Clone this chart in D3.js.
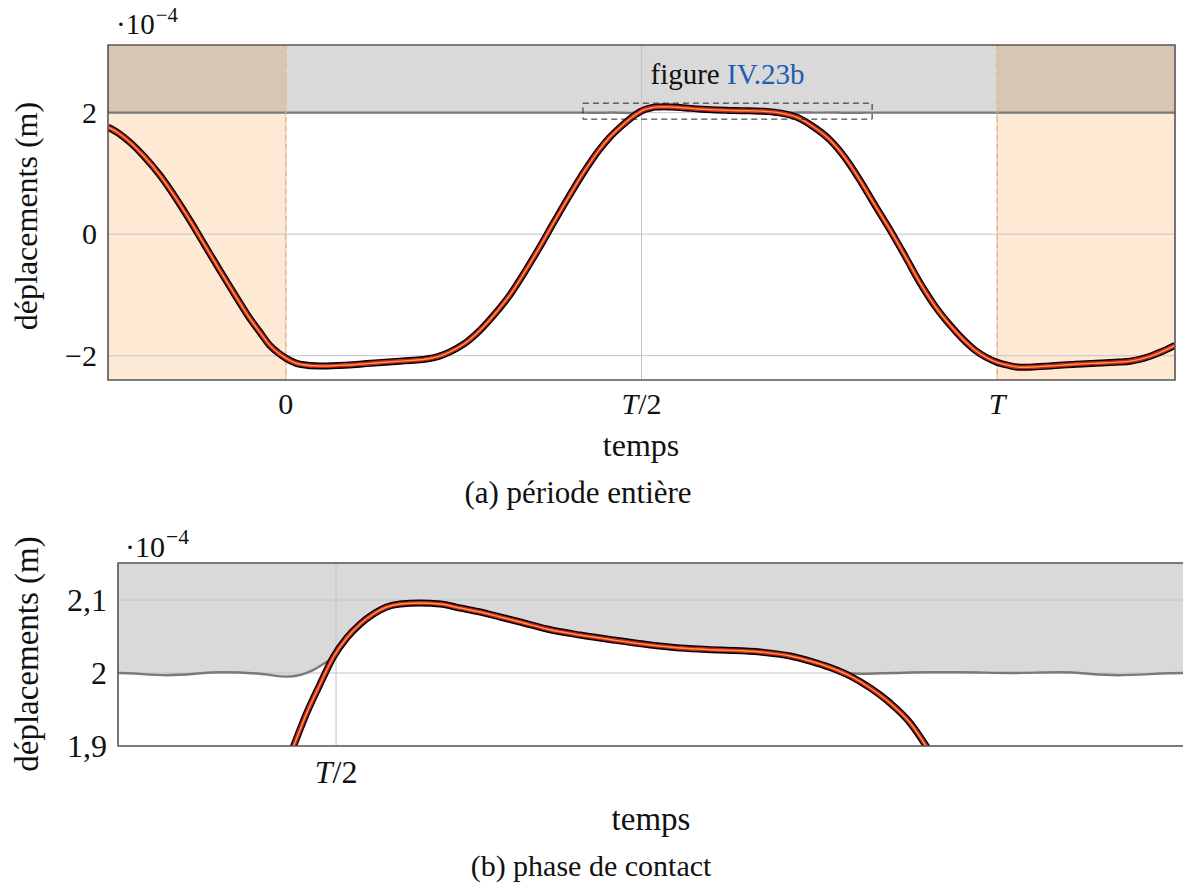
<!DOCTYPE html>
<html><head><meta charset="utf-8">
<script src="https://cdn.jsdelivr.net/npm/d3@7"></script>
<style>
body{margin:0;background:#fff;}
text{font-family:"Liberation Serif","Times New Roman",serif;fill:#111;}
</style></head>
<body>
<svg id="c" width="1183" height="884"></svg>
<script>
// ---- data (displacement in 1e-4 m, time in units of period T) ----
const timeT = [-0.25,-0.235,-0.218,-0.2,-0.177,-0.155,-0.135,-0.114,-0.093,-0.072,-0.051,-0.036,-0.0225,-0.01,0,0.0197,0.048,0.075,0.104,0.13,0.16,0.18,0.2,0.215,0.23,0.25,0.273,0.294,0.315,0.336,0.357,0.378,0.399,0.42,0.44,0.455,0.47,0.4839,0.4889,0.494,0.499,0.504,0.5091,0.5141,0.5191,0.5242,0.5317,0.5393,0.5468,0.5544,0.5619,0.5695,0.5796,0.5921,0.6046,0.6186,0.6299,0.645,0.6601,0.6714,0.6789,0.6865,0.694,0.7016,0.7091,0.7167,0.7227,0.74,0.765,0.786,0.807,0.828,0.8495,0.871,0.892,0.913,0.934,0.952,0.969,0.985,1.0,1.016,1.032,1.05,1.0745,1.11,1.145,1.17,1.187,1.2,1.215,1.23,1.25];
const displacement = [1.76,1.66,1.50,1.29,0.97,0.60,0.23,-0.18,-0.59,-0.99,-1.38,-1.62,-1.83,-1.96,-2.04,-2.14,-2.17,-2.16,-2.14,-2.115,-2.09,-2.075,-2.05,-2.01,-1.94,-1.81,-1.58,-1.31,-1.00,-0.62,-0.21,0.22,0.64,1.04,1.38,1.59,1.76,1.899,1.945,1.985,2.0219,2.0479,2.0671,2.0808,2.0904,2.0945,2.0959,2.0945,2.089,2.0836,2.0767,2.0699,2.0603,2.052,2.0452,2.0384,2.0342,2.0315,2.0288,2.0233,2.0164,2.0075,1.9959,1.9795,1.9589,1.9315,1.9,1.78,1.55,1.26,0.89,0.48,0.07,-0.37,-0.81,-1.19,-1.50,-1.73,-1.91,-2.03,-2.11,-2.16,-2.19,-2.185,-2.17,-2.14,-2.12,-2.105,-2.09,-2.06,-2.01,-1.94,-1.83];
// obstacle boundary (lower edge of the gray region)
const obstacleT = [-0.25,0,0.25,0.4177,0.4362,0.4573,0.4713,0.4815,0.4913,0.495,0.499,0.504,0.5091,0.5141,0.5191,0.5242,0.5317,0.5393,0.5468,0.5544,0.5619,0.5695,0.5796,0.5921,0.6046,0.6186,0.6299,0.645,0.6601,0.6714,0.6789,0.6865,0.6921,0.6978,0.7103,0.7231,0.7356,0.7544,0.7733,0.7948,0.8197,0.8242,1.0,1.25];
const obstacleV = [2.0,2.0,2.0,2.0,1.997,2.001,1.999,1.995,2.004,2.012,2.0219,2.0479,2.0671,2.0808,2.0904,2.0945,2.0959,2.0945,2.089,2.0836,2.0767,2.0699,2.0603,2.052,2.0452,2.0384,2.0342,2.0315,2.0288,2.0233,2.0164,2.0075,2.0,1.999,2.0,2.001,2.001,2.0,2.001,1.997,2.0,2.0,2.0,2.0];
const xTicksA = [0,0.5,1];
const xTickLabelsA = ["0","T/2","T"];
const yTicksA = [-2,0,2];
const yTickLabelsA = ["\u22122","0","2"];
const xTicksB = [0.5];
const xTickLabelsB = ["T/2"];
const yTicksB = [1.9,2.0,2.1];
const yTickLabelsB = ["1,9","2","2,1"];
const periodBounds = [0,1];
const zoomBox = {t0:0.4177,t1:0.8242,v0:1.893,v1:2.156};

const svg = d3.select("#c");
const line = (x,y)=>d3.line().x(d=>x(d[0])).y(d=>y(d[1])).curve(d3.curveMonotoneX);
const curvePts = timeT.map((t,i)=>[t,displacement[i]]);
const obsPts = obstacleT.map((t,i)=>[t,obstacleV[i]]);

function panel(o){
  const {L,R,T,B,xd,yd,id,tfs} = o;
  const x = d3.scaleLinear().domain(xd).range([L,R]);
  const y = d3.scaleLinear().domain(yd).range([B,T]);
  const g = svg.append("g");
  svg.append("clipPath").attr("id",id).append("rect").attr("x",L).attr("y",T).attr("width",R-L).attr("height",B-T);
  const pg = g.append("g").attr("clip-path",`url(#${id})`).style("isolation","isolate");
  const area = d3.area().x(d=>x(d[0])).y0(d=>y(d[1])).y1(T-5).curve(d3.curveMonotoneX);
  pg.append("path").datum(obsPts).attr("d",area).attr("fill","#d9d9d9");
  if(o.shade){
    pg.append("rect").attr("x",L).attr("y",T).attr("width",x(periodBounds[0])-L).attr("height",B-T).attr("fill","#fde9d4").style("mix-blend-mode","multiply");
    pg.append("rect").attr("x",x(periodBounds[1])).attr("y",T).attr("width",R-x(periodBounds[1])).attr("height",B-T).attr("fill","#fde9d4").style("mix-blend-mode","multiply");
  }
  o.xt.forEach(t=>pg.append("line").attr("x1",x(t)).attr("x2",x(t)).attr("y1",T).attr("y2",B).attr("stroke","#c4c4c4").attr("stroke-width",1));
  o.yt.forEach(v=>pg.append("line").attr("x1",L).attr("x2",R).attr("y1",y(v)).attr("y2",y(v)).attr("stroke","#c4c4c4").attr("stroke-width",1));
  pg.append("path").datum(obsPts).attr("d",line(x,y)).attr("fill","none").attr("stroke","#7a7a7a").attr("stroke-width",2.4);
  if(o.shade){
    periodBounds.forEach(t=>pg.append("line").attr("x1",x(t)).attr("x2",x(t)).attr("y1",T).attr("y2",B).attr("stroke","#f3b27a").attr("stroke-width",1.4).attr("stroke-dasharray","5,4"));
  }
  const d = line(x,y)(curvePts);
  pg.append("path").attr("d",d).attr("fill","none").attr("stroke","#000").attr("stroke-width",7);
  pg.append("path").attr("d",d).attr("fill","none").attr("stroke","#cc1f2c").attr("stroke-width",4.2);
  pg.append("path").attr("d",d).attr("fill","none").attr("stroke","#f7a02c").attr("stroke-width",1.4);
  g.append("path").attr("d",`M${L},${T}H${R}V${B}H${L}Z`).attr("fill","none").attr("stroke","#555").attr("stroke-width",1.6);
  o.yt.forEach((v,i)=>g.append("text").attr("x",L-11).attr("y",y(v)+o.yoff).attr("text-anchor","end").style("font-size",tfs+"px").text(o.ytl[i]));
  o.xt.forEach((t,i)=>{
    const lab=o.xtl[i];
    const tx=g.append("text").attr("x",x(t)).attr("y",o.xlabY).attr("text-anchor","middle").style("font-size",tfs+"px");
    if(lab.startsWith("T")){tx.append("tspan").style("font-style","italic").text("T");tx.append("tspan").text(lab.slice(1));}
    else tx.text(lab);
  });
  return {x,y,g};
}

function expo(x,yb,fs){
  const t=svg.append("text").attr("x",x).attr("y",yb).style("font-size",fs+"px");
  t.append("tspan").text("·10");
  t.append("tspan").attr("dy",-0.42*fs).attr("dx",1).style("font-size",(fs*0.72)+"px").text("\u22124");
}

const A = panel({L:108,R:1175,T:45,B:380,xd:[-0.25,1.25],yd:[-2.4,3.113],id:"clipA",shade:true,
  xt:xTicksA,xtl:xTickLabelsA,yt:yTicksA,ytl:yTickLabelsA,tfs:30,yoff:10,xlabY:414});
A.g.append("rect").attr("x",A.x(zoomBox.t0)).attr("y",A.y(zoomBox.v1)).attr("width",A.x(zoomBox.t1)-A.x(zoomBox.t0)).attr("height",A.y(zoomBox.v0)-A.y(zoomBox.v1))
  .attr("fill","none").attr("stroke","#222").attr("stroke-width",1).attr("stroke-dasharray","6,4");
const fig = A.g.append("text").attr("x",(A.x(zoomBox.t0)+A.x(zoomBox.t1))/2).attr("y",84).attr("text-anchor","middle").style("font-size","29px");
fig.append("tspan").text("figure ");
fig.append("tspan").style("fill","#1f5cb4").text("IV.23b");

svg.append("text").attr("x",641).attr("y",456).attr("text-anchor","middle").style("font-size","32px").text("temps");
svg.append("text").attr("x",578).attr("y",503).attr("text-anchor","middle").style("font-size","31px").text("(a) période entière");
svg.append("text").attr("transform","translate(37,216) rotate(-90)").attr("text-anchor","middle").style("font-size","32px").text("déplacements (m)");
expo(116,34,29);

const Bp = panel({L:118,R:1195,T:563,B:746,xd:[zoomBox.t0,zoomBox.t1],yd:[1.9,2.1507],id:"clipB",shade:false,
  xt:xTicksB,xtl:xTickLabelsB,yt:yTicksB,ytl:yTickLabelsB,tfs:32,yoff:11,xlabY:783});
svg.append("text").attr("x",651).attr("y",830).attr("text-anchor","middle").style("font-size","33px").text("temps");
svg.append("text").attr("x",591).attr("y",876).attr("text-anchor","middle").style("font-size","30px").text("(b) phase de contact");
svg.append("text").attr("transform","translate(38,654) rotate(-90)").attr("text-anchor","middle").style("font-size","33px").text("déplacements (m)");
expo(125,557,30);
</script>
</body></html>
